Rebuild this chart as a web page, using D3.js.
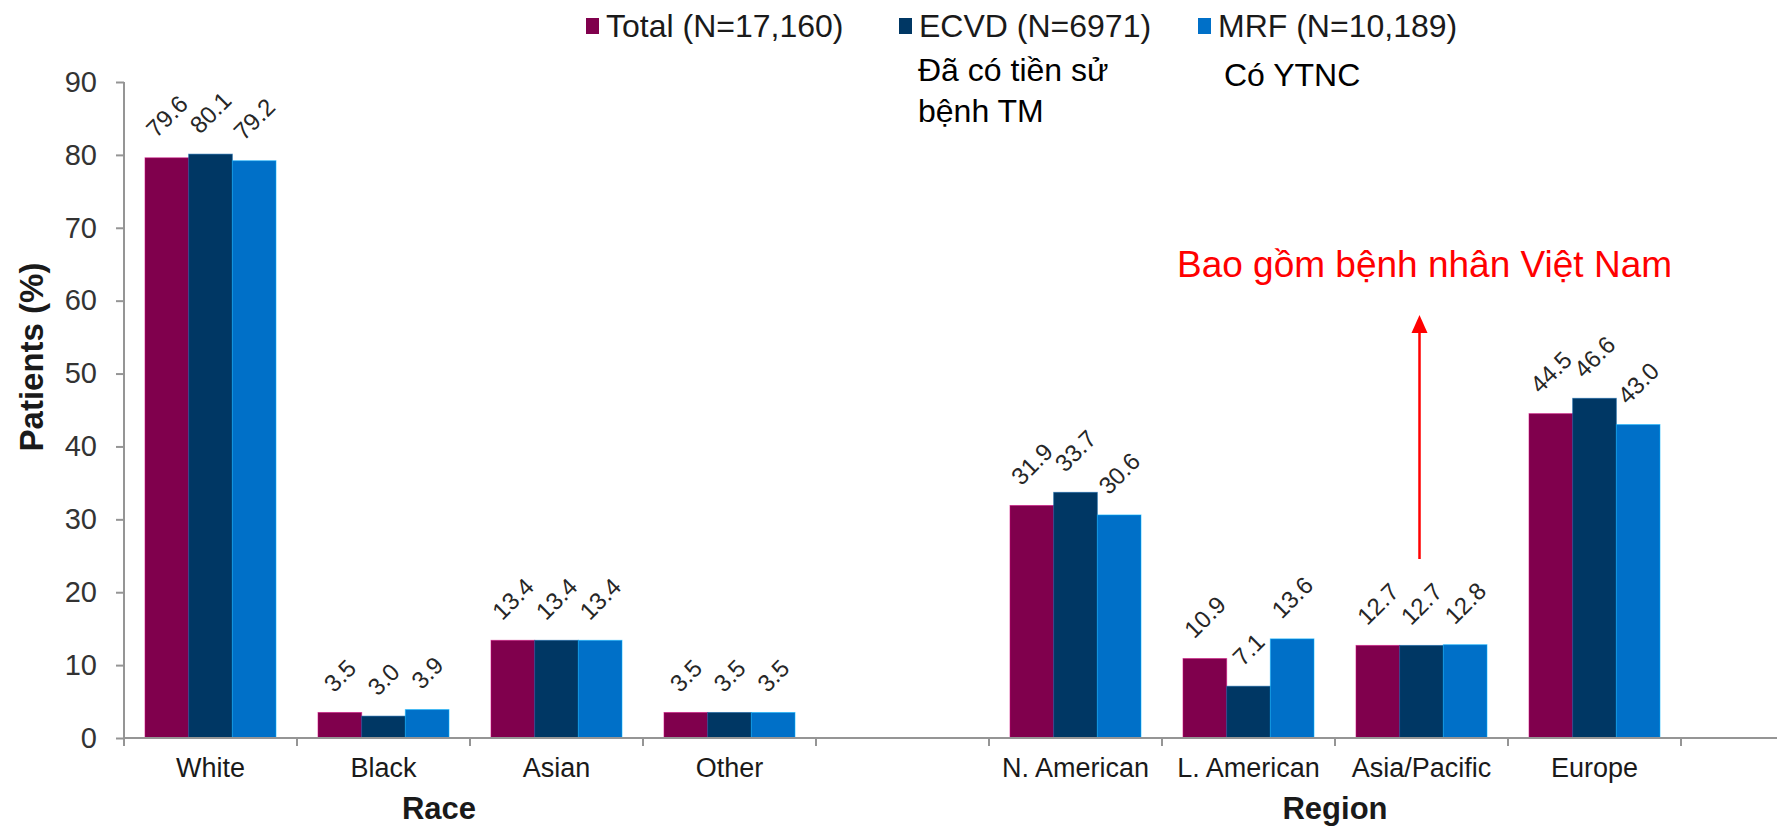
<!DOCTYPE html>
<html>
<head>
<meta charset="utf-8">
<script src="https://cdn.jsdelivr.net/npm/d3@7"></script>
<style>
  html, body { margin: 0; padding: 0; background: #fff; }
  svg { display: block; font-family: "Liberation Sans", Arial, sans-serif; }
</style>
</head>
<body>
<svg id="chart" width="1777" height="828"></svg>
<script>
// Patient characteristics by race and by region
const raceCategories = ["White", "Black", "Asian", "Other"];
const regionCategories = ["N. American", "L. American", "Asia/Pacific", "Europe"];
const seriesNames = ["Total (N=17,160)", "ECVD (N=6971)", "MRF (N=10,189)"];
const seriesKeys = ["total", "ecvd", "mrf"];
const seriesColors = ["#80004d", "#003764", "#0070c8"];

const totalValues = [79.6, 3.5, 13.4, 3.5, 31.9, 10.9, 12.7, 44.5];
const ecvdValues  = [80.1, 3.0, 13.4, 3.5, 33.7, 7.1, 12.7, 46.6];
const mrfValues   = [79.2, 3.9, 13.4, 3.5, 30.6, 13.6, 12.8, 43.0];

const yTicks = [0, 10, 20, 30, 40, 50, 60, 70, 80, 90];
const yTitle = "Patients (%)";
const groupTitles = ["Race", "Region"];
const seriesNotes = [null, ["Đã có tiền sử", "bệnh TM"], ["Có YTNC"]];
const callout = "Bao gồm bệnh nhân Việt Nam";
const calloutCategory = "Asia/Pacific";

// slot layout: race groups, an empty spacer, region groups, trailing spacer
const slots = [...raceCategories, "_gap", ...regionCategories, "_end"];
const categories = [...raceCategories, ...regionCategories];
const valuesBySeries = { total: totalValues, ecvd: ecvdValues, mrf: mrfValues };
const rows = categories.map((c, i) => ({
  category: c,
  values: seriesKeys.map(k => ({ key: k, value: valuesBySeries[k][i] }))
}));

const svg = d3.select("#chart");
const font = "Liberation Sans, Arial, sans-serif";
const textColor = "#262626";
const axisColor = "#959595";

const x0 = 124, slotW = 173;
const x = d3.scaleBand().domain(slots).range([x0, x0 + slotW * slots.length]).padding(0);
const xs = d3.scaleBand().domain(seriesKeys).range([21, 152]).padding(0);
const y = d3.scaleLinear().domain([0, 90]).range([738, 82]);
const color = d3.scaleOrdinal().domain(seriesKeys).range(seriesColors);
const fmt = d3.format(".1f");

// bars
const groups = svg.append("g").selectAll("g").data(rows).join("g")
  .attr("transform", d => `translate(${x(d.category)},0)`);

groups.selectAll("rect").data(d => d.values).join("rect")
  .attr("x", d => xs(d.key))
  .attr("width", xs.bandwidth())
  .attr("y", d => y(d.value))
  .attr("height", d => y(0) - y(d.value))
  .attr("fill", d => color(d.key))
  .attr("stroke", d => d3.color(color(d.key)).brighter(1.3))
  .attr("stroke-opacity", 0.55)
  .attr("stroke-width", 1);

// rotated value labels: the rotated box sits a fixed gap above the bar top
const labelSize = 24, labelGap = 19;
groups.selectAll("text.val").data(d => d.values).join("text")
  .attr("class", "val")
  .attr("text-anchor", "middle")
  .attr("dominant-baseline", "central")
  .attr("font-size", labelSize)
  .attr("fill", textColor)
  .text(d => fmt(d.value))
  .attr("transform", function (d) {
    const len = this.getComputedTextLength();
    const half = (len + labelSize * 0.72) * Math.SQRT1_2 / 2;
    return `translate(${xs(d.key) + xs.bandwidth() / 2},${y(d.value) - labelGap - half}) rotate(-45)`;
  });

// y axis
const yAxis = svg.append("g")
  .attr("transform", `translate(${x0},0)`)
  .call(d3.axisLeft(y).tickValues(yTicks).tickSize(8).tickPadding(19).tickFormat(d3.format("d")));
yAxis.select(".domain").attr("stroke", axisColor).attr("stroke-width", 2)
  .attr("d", `M0,${y(90)}V${y(0)}`);
yAxis.selectAll(".tick line").attr("stroke", axisColor).attr("stroke-width", 2);
yAxis.selectAll(".tick text")
  .attr("font-family", font).attr("font-size", 29).attr("fill", "#333");

// x axis
const xAxis = svg.append("g")
  .attr("transform", `translate(0,${y(0)})`);
xAxis.append("line")
  .attr("x1", x0).attr("x2", 1777).attr("y1", 0).attr("y2", 0)
  .attr("stroke", axisColor).attr("stroke-width", 2);
xAxis.selectAll("line.tick").data(slots).join("line")
  .attr("class", "tick")
  .attr("x1", d => x(d)).attr("x2", d => x(d))
  .attr("y1", 0).attr("y2", 8)
  .attr("stroke", axisColor).attr("stroke-width", 2);
xAxis.selectAll("text.cat").data(categories).join("text")
  .attr("class", "cat")
  .attr("x", d => x(d) + x.bandwidth() / 2)
  .attr("y", 30)
  .attr("text-anchor", "middle")
  .attr("dominant-baseline", "central")
  .attr("font-size", 27)
  .attr("fill", "#1a1a1a")
  .text(d => d);

// group titles
const groupTitleX = [439, (x(regionCategories[0]) + x(regionCategories[3]) + x.bandwidth()) / 2];
svg.selectAll("text.gtitle").data(groupTitles).join("text")
  .attr("class", "gtitle")
  .attr("x", (d, i) => groupTitleX[i])
  .attr("y", 808)
  .attr("text-anchor", "middle")
  .attr("dominant-baseline", "central")
  .attr("font-size", 31)
  .attr("font-weight", "bold")
  .attr("fill", "#1a1a1a")
  .text(d => d);

// y title
svg.append("text")
  .attr("transform", "translate(31,357) rotate(-90)")
  .attr("text-anchor", "middle")
  .attr("dominant-baseline", "central")
  .attr("font-size", 33)
  .attr("font-weight", "bold")
  .attr("fill", "#1a1a1a")
  .text(yTitle);

// legend
const legendX = [586, 899, 1198];
const legend = svg.append("g").selectAll("g").data(seriesKeys).join("g")
  .attr("transform", (d, i) => `translate(${legendX[i]},0)`);
legend.append("rect")
  .attr("x", 0).attr("y", 18).attr("width", 13).attr("height", 16)
  .attr("fill", d => color(d));
legend.append("text")
  .attr("x", 20).attr("y", 26)
  .attr("dominant-baseline", "central")
  .attr("font-size", 32)
  .attr("fill", "#1a1a1a")
  .text((d, i) => seriesNames[i]);

// notes under legend entries
const noteX = [null, 918, 1224];
const noteY = [null, [70, 111], [75]];
seriesNotes.forEach((lines, i) => {
  if (!lines) return;
  lines.forEach((t, j) => {
    svg.append("text")
      .attr("x", noteX[i]).attr("y", noteY[i][j])
      .attr("dominant-baseline", "central")
      .attr("font-size", 32)
      .attr("fill", "#000")
      .text(t);
  });
});

// callout with arrow
const arrowX = x(calloutCategory) + x.bandwidth() / 2 - 2;
svg.append("text")
  .attr("x", 1177).attr("y", 277)
  .attr("font-size", 37)
  .attr("fill", "#ff0000")
  .text(callout);
svg.append("line")
  .attr("x1", arrowX).attr("x2", arrowX)
  .attr("y1", 559).attr("y2", 330)
  .attr("stroke", "#ff0000").attr("stroke-width", 2.5);
svg.append("path")
  .attr("d", `M${arrowX},315 L${arrowX - 8},333 L${arrowX + 8},333 Z`)
  .attr("fill", "#ff0000");
</script>
</body>
</html>
